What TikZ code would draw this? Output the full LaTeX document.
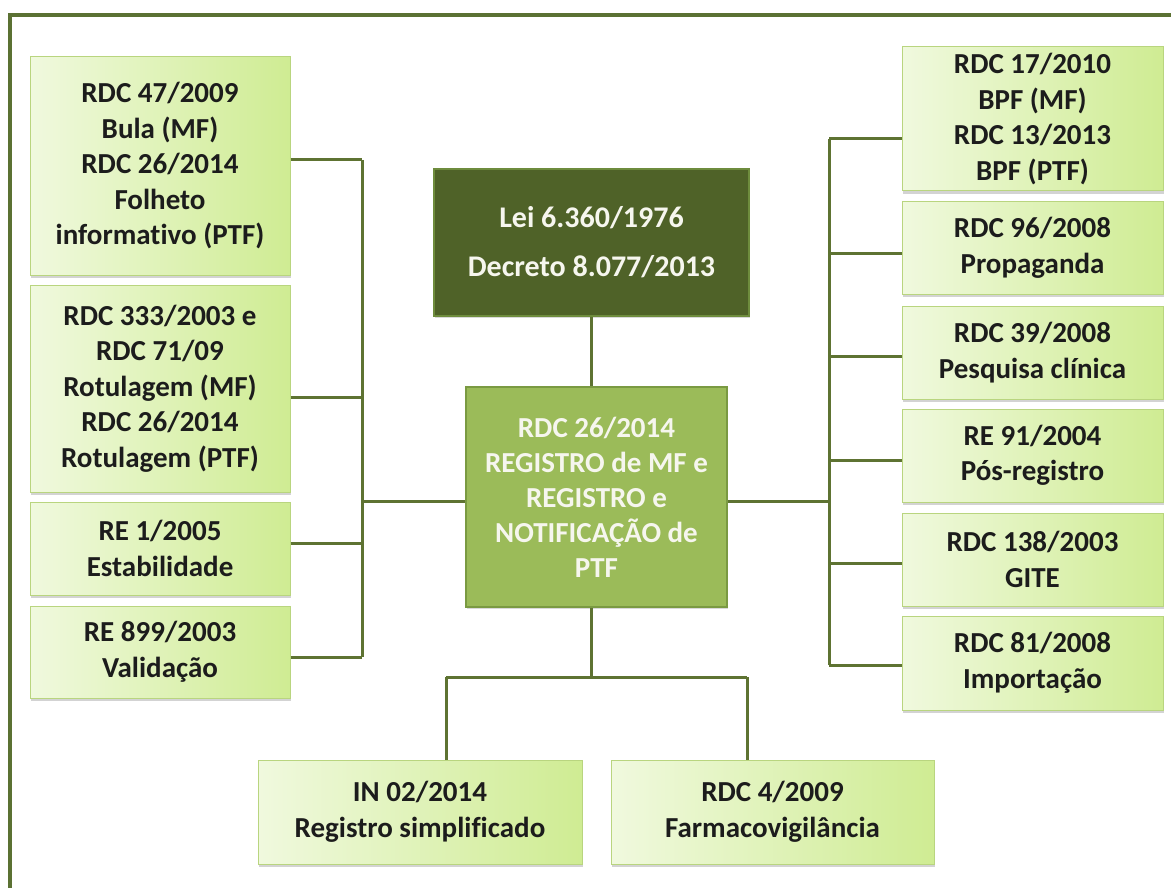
\documentclass[tikz,border=0pt]{standalone}
\usepackage{fontspec}
\setmainfont{Carlito}[Ligatures={NoCommon,NoRare}]
\usetikzlibrary{shadows}
\definecolor{pale}{HTML}{F0F9DE}
\definecolor{sat}{HTML}{CFEC93}
\definecolor{boxedge}{HTML}{B9D57F}
\definecolor{darkfill}{HTML}{4F6228}
\definecolor{darkedge}{HTML}{6E8C3D}
\definecolor{midfill}{HTML}{9BBB59}
\definecolor{midedge}{HTML}{7A9A42}
\definecolor{conn}{HTML}{5E7332}
\definecolor{frame}{HTML}{5B7133}
\definecolor{txt}{HTML}{1C1C1C}
\definecolor{wtxt}{HTML}{F6F6EE}
\tikzset{
  lbox/.style={draw=boxedge, line width=1pt, left color=pale, right color=sat,
    align=center, text=txt, inner sep=0pt,
    font=\fontsize{29}{35.5}\selectfont\bfseries,
    drop shadow={opacity=0.35, shadow xshift=1pt, shadow yshift=-3pt}},
  dbox/.style={draw=darkedge, line width=2.5pt, fill=darkfill, align=center,
    text=wtxt, inner sep=0pt, font=\fontsize{30}{36}\selectfont\bfseries,
    drop shadow={opacity=0.3, shadow xshift=1pt, shadow yshift=-2pt}},
  cbox/.style={draw=midedge, line width=2.5pt, fill=midfill, align=center,
    text=wtxt, inner sep=0pt, font=\fontsize{29}{35}\selectfont\bfseries,
    drop shadow={opacity=0.3, shadow xshift=1pt, shadow yshift=-2pt}},
  link/.style={draw=conn, line width=3pt},
  frameline/.style={draw=frame, line width=4.5pt}
}
\begin{document}
\begin{tikzpicture}[x=1pt,y=-1pt]
\useasboundingbox (0,0) rectangle (1171,888);
\draw[frameline] (10,900) -- (10,15) -- (1180,15);
% left column
\node[lbox, minimum width=260pt, minimum height=218pt] (L1) at (160,166)
  {RDC 47/2009\\Bula (MF)\\RDC 26/2014\\Folheto\\informat\kern0pt ivo (PTF)};
\node[lbox, minimum width=260pt, minimum height=207pt] (L2) at (160,388.5)
  {RDC 333/2003 e\\RDC 71/09\\Rotulagem (MF)\\RDC 26/2014\\Rotulagem (PTF)};
\node[lbox, minimum width=260pt, minimum height=93pt] (L3) at (160,548.5)
  {RE 1/2005\\Estabilidade};
\node[lbox, minimum width=260pt, minimum height=92pt] (L4) at (160,652)
  {RE 899/2003\\Validação};
% centre
\node[dbox, minimum width=315pt, minimum height=147pt] (D) at (591.5,242.5)
  {Lei 6.360/1976\\[13pt]Decreto 8.077/2013};
\node[cbox, minimum width=261pt, minimum height=220pt] (C) at (596.5,497)
  {RDC 26/2014\\REGISTRO de MF e\\REGISTRO e\\NOTIFICAÇÃO de\\PTF};
% right column
\node[lbox, minimum width=261pt, minimum height=144pt] (R1) at (1032.5,119)
  {RDC 17/2010\\BPF (MF)\\RDC 13/2013\\BPF (PTF)};
\node[lbox, minimum width=261pt, minimum height=92pt] (R2) at (1032.5,248)
  {RDC 96/2008\\Propaganda};
\node[lbox, minimum width=261pt, minimum height=93pt] (R3) at (1032.5,352.5)
  {RDC 39/2008\\Pesquisa clínica};
\node[lbox, minimum width=261pt, minimum height=93pt] (R4) at (1032.5,455.5)
  {RE 91/2004\\Pós-registro};
\node[lbox, minimum width=261pt, minimum height=93pt] (R5) at (1032.5,559.5)
  {RDC 138/2003\\GITE};
\node[lbox, minimum width=261pt, minimum height=94pt] (R6) at (1032.5,663)
  {RDC 81/2008\\Importação};
% bottom
\node[lbox, minimum width=324pt, minimum height=104pt] (B1) at (420,812)
  {IN 02/2014\\Registro simplificado};
\node[lbox, minimum width=323pt, minimum height=104pt] (B2) at (772.5,812)
  {RDC 4/2009\\Farmacovigilância};
% junction coordinates
\coordinate (l1) at (362,160);
\coordinate (l2) at (362,397);
\coordinate (l3) at (362,543);
\coordinate (l4) at (362,657);
\coordinate (lc) at (362,501);
\coordinate (r1) at (829,139);
\coordinate (r2) at (829,253);
\coordinate (r3) at (829,356);
\coordinate (r4) at (829,460);
\coordinate (r5) at (829,563);
\coordinate (r6) at (829,665);
\coordinate (rc) at (829,501);
\coordinate (bj) at (591,677);
\coordinate (bl) at (446,677);
\coordinate (br) at (747,677);
% connectors
\draw[link] (l1) -- (l4);
\draw[link] (L1.east |- l1) -- (l1);
\draw[link] (L2.east |- l2) -- (l2);
\draw[link] (L3.east |- l3) -- (l3);
\draw[link] (L4.east |- l4) -- (l4);
\draw[link] (C.west |- lc) -- (lc);
\draw[link] (r1) -- (r6);
\draw[link] (R1.west |- r1) -- (r1);
\draw[link] (R2.west |- r2) -- (r2);
\draw[link] (R3.west |- r3) -- (r3);
\draw[link] (R4.west |- r4) -- (r4);
\draw[link] (R5.west |- r5) -- (r5);
\draw[link] (R6.west |- r6) -- (r6);
\draw[link] (C.east |- rc) -- (rc);
\draw[link] (D.south -| bj) -- (C.north -| bj);
\draw[link] (C.south -| bj) -- (bj);
\draw[link] (bl) -- (br);
\draw[link] (bl) -- (B1.north -| bl);
\draw[link] (br) -- (B2.north -| br);
\end{tikzpicture}
\end{document}
